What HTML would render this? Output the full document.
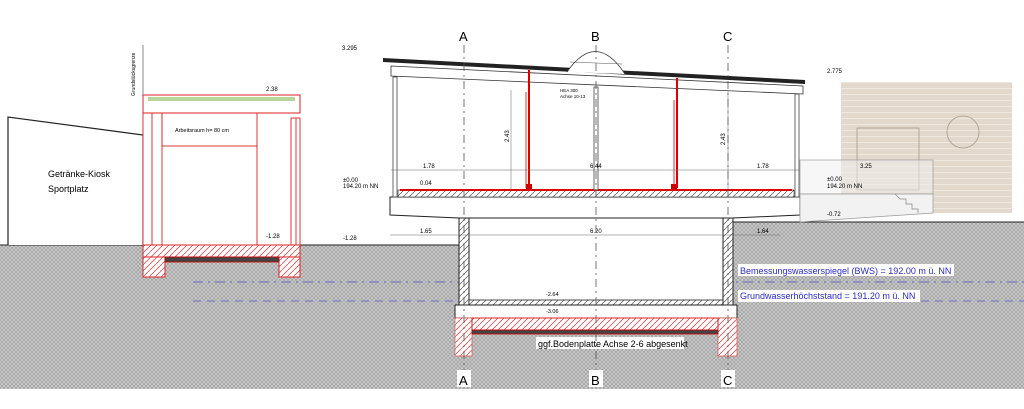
<!DOCTYPE html>
<html><head><meta charset="utf-8"><style>
html,body{margin:0;padding:0;background:#fff;}
svg{display:block;}
text{font-family:"Liberation Sans",sans-serif;}
</style></head><body>
<svg width="1024" height="409" viewBox="0 0 1024 409" xmlns="http://www.w3.org/2000/svg">
<defs>
<pattern id="gr" width="4" height="4" patternUnits="userSpaceOnUse">
<rect width="4" height="4" fill="#cbcbcb"/>
<path d="M0 4L4 0M0 0L4 4" stroke="#959595" stroke-width="0.6"/>
</pattern>
<pattern id="hr" width="6" height="6" patternUnits="userSpaceOnUse">
<rect width="6" height="6" fill="#fff"/>
<path d="M0 6L6 0" stroke="#e05050" stroke-width="0.8"/>
</pattern>
<pattern id="hk" width="6" height="6" patternUnits="userSpaceOnUse">
<rect width="6" height="6" fill="#fff"/>
<path d="M0 6L6 0" stroke="#555" stroke-width="0.7"/>
</pattern>
<pattern id="wood" width="10" height="6" patternUnits="userSpaceOnUse">
<rect width="10" height="6" fill="#e2d8cb"/>
<rect y="4" width="10" height="1" fill="#efe8de"/>
</pattern>
</defs>
<rect x="0" y="245" width="1024" height="144" fill="url(#gr)"/>
<rect x="733" y="222" width="291" height="24" fill="url(#gr)"/>
<line x1="0" y1="245" x2="460" y2="245" stroke="#222" stroke-width="1"/>
<line x1="733" y1="222" x2="1024" y2="222" stroke="#222" stroke-width="1"/>
<polyline points="8,245 8,117 143,135 143,245" fill="#fff" stroke="#222" stroke-width="1.2"/>
<text x="48" y="177" font-size="9">Getränke-Kiosk</text>
<text x="48" y="192" font-size="9">Sportplatz</text>
<line x1="143" y1="45" x2="143" y2="245" stroke="#888" stroke-width="1"/>
<text transform="translate(135,96) rotate(-90)" font-size="5">Grundstücksgrenze</text>
<rect x="143" y="113" width="157" height="132" fill="#fff"/>
<rect x="143" y="95" width="157" height="18" fill="#fff" stroke="#d22" stroke-width="1"/>
<rect x="148" y="97" width="147" height="4" fill="#b7d69a"/>
<text x="266" y="91" font-size="6">2.38</text>
<g fill="none" stroke="#d22" stroke-width="0.9">
<line x1="152" y1="113" x2="152" y2="245"/><line x1="162" y1="113" x2="162" y2="245"/>
<line x1="143" y1="113" x2="143" y2="245"/>
<rect x="162" y="113" width="95" height="33"/>
<line x1="257" y1="146" x2="257" y2="245"/>
<rect x="291" y="118" width="9" height="127"/><line x1="296" y1="118" x2="296" y2="245"/>
</g>
<text x="175" y="132" font-size="5.5">Arbeitsraum h= 80 cm</text>
<text x="266" y="238" font-size="6">-1.28</text>
<rect x="143" y="245" width="157" height="12" fill="url(#hr)" stroke="#d22" stroke-width="1"/>
<rect x="143" y="257" width="22" height="20" fill="url(#hr)" stroke="#d22" stroke-width="1"/>
<rect x="279" y="257" width="21" height="20" fill="url(#hr)" stroke="#d22" stroke-width="1"/>
<rect x="165" y="257" width="114" height="5" fill="#444" stroke="#c00" stroke-width="0.8"/>
<line x1="193" y1="282" x2="1024" y2="282" stroke="#6c6cc8" stroke-width="0.9" stroke-dasharray="10,5,2,5"/>
<line x1="193" y1="301" x2="1024" y2="301" stroke="#6c6cc8" stroke-width="0.9" stroke-dasharray="8,6"/>
<rect x="469" y="218" width="254" height="82" fill="#fff"/>
<rect x="459" y="218" width="10" height="87" fill="url(#hk)" stroke="#222" stroke-width="1"/>
<rect x="723" y="218" width="10" height="87" fill="url(#hk)" stroke="#222" stroke-width="1"/>
<rect x="469" y="300" width="254" height="5" fill="url(#hk)" stroke="#222" stroke-width="0.8"/>
<rect x="455" y="305" width="282" height="13" fill="#fff" stroke="#222" stroke-width="1"/>
<rect x="455" y="318" width="17" height="38" fill="url(#hr)" stroke="#e06060" stroke-width="0.8"/>
<rect x="718" y="318" width="19" height="38" fill="url(#hr)" stroke="#e06060" stroke-width="0.8"/>
<rect x="472" y="318" width="246" height="12" fill="url(#hr)" stroke="#d22" stroke-width="1"/>
<rect x="472" y="330" width="246" height="4" fill="#444" stroke="#c00" stroke-width="0.8"/>
<rect x="536" y="337" width="148" height="12" fill="#fff"/>
<text x="538" y="347" font-size="9">ggf.Bodenplatte Achse 2-6 abgesenkt</text>
<text x="546" y="296" font-size="5.5">-2.64</text>
<text x="546" y="313" font-size="5.5">-3.06</text>
<polygon points="390,197 800,197 800,215 733,218 459,218 390,215" fill="#fff" stroke="#222" stroke-width="1"/>
<rect x="398" y="190" width="396" height="7" fill="url(#hk)" stroke="#222" stroke-width="0.6"/>
<line x1="400" y1="190" x2="792" y2="190" stroke="#d00" stroke-width="2"/>
<polygon points="383,58 805,80 805,84 383,62" fill="#222"/>
<polygon points="391,66 803,86 803,94 391,76" fill="#fff" stroke="#333" stroke-width="0.8"/>
<path d="M567,72 Q596,30 625,74" fill="#fff" stroke="#333" stroke-width="0.8"/>
<line x1="570" y1="62" x2="622" y2="64" stroke="#555" stroke-width="0.6"/>
<rect x="393" y="77" width="4" height="120" fill="#fff" stroke="#444" stroke-width="0.8"/>
<rect x="795" y="94" width="4" height="103" fill="#fff" stroke="#444" stroke-width="0.8"/>
<rect x="594" y="87" width="4" height="103" fill="#fff" stroke="#444" stroke-width="0.8"/>
<text x="560" y="92" font-size="4.5">HEA 300</text>
<text x="560" y="98" font-size="4.5">Achse 10-13</text>
<line x1="529" y1="70" x2="529" y2="188" stroke="#d00" stroke-width="2"/>
<line x1="526" y1="92" x2="526" y2="188" stroke="#d00" stroke-width="0.8"/>
<rect x="526" y="184" width="6" height="6" fill="#c00"/>
<line x1="677" y1="78" x2="677" y2="188" stroke="#d00" stroke-width="2"/>
<line x1="674" y1="100" x2="674" y2="188" stroke="#d00" stroke-width="0.8"/>
<rect x="671" y="184" width="6" height="6" fill="#c00"/>
<g stroke="#666" stroke-width="0.5">
<line x1="391" y1="170" x2="800" y2="170"/>
<line x1="390" y1="235" x2="780" y2="235"/>
<line x1="511" y1="90" x2="511" y2="190"/>
<line x1="728" y1="90" x2="728" y2="190"/>
</g>
<text x="423" y="168" font-size="6">1.78</text>
<text x="590" y="168" font-size="6">6.44</text>
<text x="757" y="168" font-size="6">1.78</text>
<text x="420" y="185" font-size="6">0.04</text>
<text x="420" y="233" font-size="6">1.65</text>
<text x="590" y="233" font-size="6">6.20</text>
<text x="757" y="233" font-size="6">1.64</text>
<text transform="translate(509,142) rotate(-90)" font-size="6">2.43</text>
<text transform="translate(725,145) rotate(-90)" font-size="6">2.43</text>
<text x="342" y="50" font-size="6">3.295</text>
<text x="343" y="182" font-size="6">±0.00</text>
<text x="343" y="188" font-size="6">194.20 m NN</text>
<text x="343" y="240" font-size="6">-1.28</text>
<text x="827" y="73" font-size="6">2.775</text>
<rect x="841" y="82" width="171" height="131" fill="url(#wood)"/>
<circle cx="963" cy="132" r="16" fill="none" stroke="#a89a8a" stroke-width="0.8"/>
<rect x="857" y="128" width="62" height="62" fill="none" stroke="#a89a8a" stroke-width="0.8"/>
<rect x="800" y="160" width="133" height="34" fill="#f0f0f0" fill-opacity="0.5" stroke="#999" stroke-width="0.7"/>
<polygon points="800,194 933,194 933,213 800,222" fill="#f2f2f2" stroke="#999" stroke-width="0.7"/>
<polyline points="895,194 900,199 906,199 906,204 912,204 912,209 918,209 918,213" fill="none" stroke="#888" stroke-width="0.7"/>
<text x="860" y="168" font-size="6">3.25</text>
<text x="827" y="181" font-size="6">±0.00</text>
<text x="827" y="188" font-size="6">194.20 m NN</text>
<text x="827" y="216" font-size="6">-0.72</text>
<g stroke="#555" stroke-width="0.8" stroke-dasharray="8,4,2,4">
<line x1="464" y1="45" x2="464" y2="370"/>
<line x1="596" y1="45" x2="596" y2="370"/>
<line x1="728" y1="45" x2="728" y2="370"/>
</g>
<g font-size="13">
<text x="459" y="41">A</text><text x="591" y="41">B</text><text x="723" y="41">C</text>
<rect x="457" y="370" width="14" height="17" fill="#fff"/><rect x="589" y="370" width="14" height="17" fill="#fff"/><rect x="721" y="370" width="14" height="17" fill="#fff"/>
<text x="459" y="385">A</text><text x="591" y="385">B</text><text x="723" y="385">C</text>
</g>
<rect x="738" y="264" width="216" height="12" fill="#fff"/>
<text x="740" y="274" font-size="9" fill="#2a2ad0">Bemessungswasserspiegel (BWS) = 192.00 m ü. NN</text>
<rect x="738" y="290" width="182" height="12" fill="#fff"/>
<text x="740" y="299" font-size="9" fill="#2a2ad0">Grundwasserhöchststand = 191.20 m ü. NN</text>
</svg>
</body></html>
